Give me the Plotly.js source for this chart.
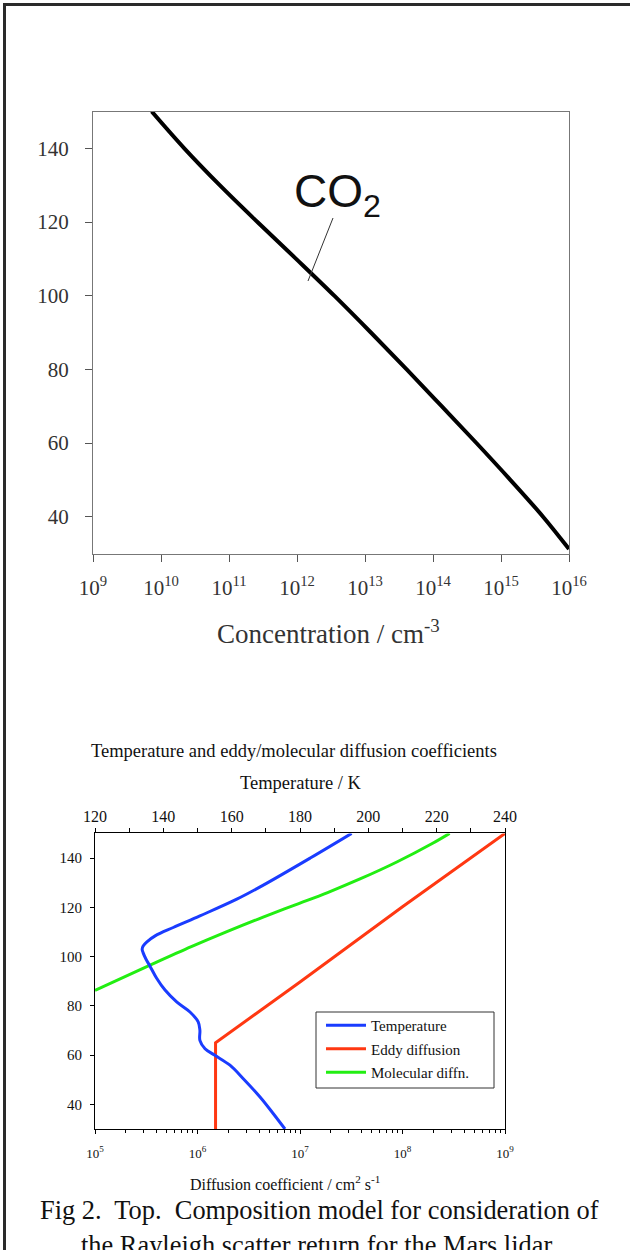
<!DOCTYPE html>
<html>
<head>
<meta charset="utf-8">
<script src="https://cdn.plot.ly/plotly-3.0.1.min.js"></script>
<style>
  html, body { margin: 0; padding: 0; background: #fff; }
  #chart { width: 630px; height: 1250px; }
</style>
</head>
<body>
<div id="chart"></div>
<script>
// ---------- Top panel: CO2 concentration profile ----------
const co2Alt  = [150, 140, 130, 120, 110, 100, 90, 80, 70, 60, 50, 40, 31.2];
const co2Conc = [7.3e9, 2.2e10, 7.3e10, 2.62e11, 9.7e11, 3.53e12, 1.22e13, 4.1e13, 1.34e14, 4.35e14, 1.37e15, 4.15e15, 1.0e16];
const concTickVals = [1e9, 1e10, 1e11, 1e12, 1e13, 1e14, 1e15, 1e16];
const concTickText = ['10<sup>9</sup>', '10<sup>10</sup>', '10<sup>11</sup>', '10<sup>12</sup>', '10<sup>13</sup>', '10<sup>14</sup>', '10<sup>15</sup>', '10<sup>16</sup>'];
const altTickVals = [40, 60, 80, 100, 120, 140];

// ---------- Bottom panel: temperature and diffusion coefficients ----------
const tempAlt = [30, 36.2, 43, 50.4, 55.9, 59.9, 62.6, 66, 70.1, 73.5, 77.5, 81.6, 86.4, 91.3, 96.1, 99, 101.5, 103, 104.3, 106, 108.4, 111.8, 116.5, 123.3, 128.8, 140, 150];
const tempK   = [175.6, 172.2, 168.3, 163.4, 159.5, 155.1, 152.2, 150.7, 150.7, 150.2, 147.8, 143.9, 140.5, 138.0, 136.1, 134.9, 134.1, 133.8, 134.1, 135.2, 137.6, 142.9, 150.7, 161.5, 169.0, 183, 195.1];
const eddyAlt = [30, 65, 89.7, 120.2, 150];
const eddyK   = [1.5e6, 1.5e6, 1.0e7, 1.0e8, 1.0e9];
const molAlt  = [86.3, 96, 104, 110, 116, 121, 126, 131.5, 138.5, 146, 150];
const molK    = [1.0e5, 3.24e5, 8.7e5, 1.91e6, 4.37e6, 9.0e6, 1.86e7, 3.85e7, 8.9e7, 1.97e8, 2.88e8];
const diffTickVals = [1e5, 1e6, 1e7, 1e8, 1e9];
const diffTickText = ['10<sup>5</sup>', '10<sup>6</sup>', '10<sup>7</sup>', '10<sup>8</sup>', '10<sup>9</sup>'];
const seriesNames = ['Temperature', 'Eddy diffusion', 'Molecular diffn.'];

const W = 630, H = 1250;
const px = x => x / W;
const py = y => 1 - y / H;
const SERIF = 'Liberation Serif, Times New Roman, serif';
const SANS = 'Liberation Sans, Arial, sans-serif';

const traces = [
  { x: co2Conc, y: co2Alt, xaxis: 'x', yaxis: 'y', mode: 'lines', showlegend: false,
    line: { color: '#000', width: 4, shape: 'spline', smoothing: 1 }, hoverinfo: 'skip' },
  { x: tempK, y: tempAlt, xaxis: 'x3', yaxis: 'y2', mode: 'lines', name: seriesNames[0], legendgroup: 'g1',
    line: { color: '#1a3cff', width: 3, shape: 'spline', smoothing: 1 } },
  { x: eddyK, y: eddyAlt, xaxis: 'x2', yaxis: 'y2', mode: 'lines', name: seriesNames[1], legendgroup: 'g2',
    line: { color: '#ff3812', width: 3 } },
  { x: molK, y: molAlt, xaxis: 'x2', yaxis: 'y2', mode: 'lines', name: seriesNames[2], legendgroup: 'g3',
    line: { color: '#22ee12', width: 3, shape: 'spline', smoothing: 1 } }
];

const layout = {
  width: W, height: H,
  margin: { l: 0, r: 0, t: 0, b: 0 },
  paper_bgcolor: '#fff', plot_bgcolor: '#fff',
  font: { family: SERIF, color: '#111' },
  xaxis: {
    type: 'log', range: [9, 16], domain: [px(93), px(569)], anchor: 'y',
    tickmode: 'array', tickvals: concTickVals, ticktext: concTickText,
    ticks: 'outside', ticklen: 7, tickcolor: '#555', tickwidth: 1, ticklabelstandoff: 8,
    showline: true, linecolor: '#777', linewidth: 1, mirror: true,
    showgrid: false, zeroline: false,
    tickfont: { family: SERIF, size: 21, color: '#333' }
  },
  yaxis: {
    range: [30, 150], domain: [py(553.5), py(111.5)], anchor: 'x',
    tickmode: 'array', tickvals: altTickVals,
    ticks: 'outside', ticklen: 7, tickcolor: '#555', tickwidth: 1, ticklabelstandoff: 12,
    showline: true, linecolor: '#777', linewidth: 1, mirror: true,
    showgrid: false, zeroline: false,
    tickfont: { family: SERIF, size: 21, color: '#333' }
  },
  xaxis2: {
    type: 'log', range: [5, 9], domain: [px(95), px(505)], anchor: 'y2', side: 'bottom',
    tickmode: 'array', tickvals: diffTickVals, ticktext: diffTickText,
    ticks: 'outside', ticklen: 4, tickcolor: '#000', ticklabelstandoff: 8,
    minor: { ticks: 'outside', ticklen: 3, tickcolor: '#000', dtick: 'D1', showgrid: false },
    showline: true, linecolor: '#000', linewidth: 1, mirror: true,
    showgrid: false, zeroline: false,
    tickfont: { family: SERIF, size: 13, color: '#111' }
  },
  xaxis3: {
    range: [120, 240], overlaying: 'x2', anchor: 'y2', side: 'top',
    tickmode: 'linear', tick0: 120, dtick: 20,
    ticks: 'outside', ticklen: 4, tickcolor: '#000',
    minor: { ticks: 'outside', ticklen: 4, tickcolor: '#000', dtick: 10, showgrid: false },
    showline: true, linecolor: '#000', linewidth: 1,
    showgrid: false, zeroline: false,
    tickfont: { family: SERIF, size: 16, color: '#111' }
  },
  yaxis2: {
    range: [30, 150], domain: [py(1129), py(833.4)], anchor: 'x2',
    tickmode: 'array', tickvals: altTickVals,
    ticks: 'outside', ticklen: 4, tickcolor: '#000', ticklabelstandoff: 5,
    showline: true, linecolor: '#000', linewidth: 1, mirror: true,
    showgrid: false, zeroline: false,
    tickfont: { family: SERIF, size: 15, color: '#111' }
  },
  showlegend: true,
  legend: {
    x: px(321), y: py(1009), xanchor: 'left', yanchor: 'top',
    bgcolor: 'rgba(0,0,0,0)', borderwidth: 0,
    font: { family: SERIF, size: 15, color: '#111' },
    itemwidth: 40,
    tracegroupgap: 1
  },
  shapes: [
    { type: 'rect', xref: 'paper', yref: 'paper', x0: px(4.5), x1: 1.2, y0: py(4.5), y1: -0.2,
      line: { color: '#2a2a2a', width: 3 }, fillcolor: 'rgba(0,0,0,0)' },
    { type: 'line', xref: 'paper', yref: 'paper', x0: px(333), y0: py(218), x1: px(308), y1: py(281),
      line: { color: '#333', width: 1 } },
    { type: 'rect', xref: 'paper', yref: 'paper', x0: px(316), x1: px(494), y0: py(1012), y1: py(1088),
      line: { color: '#333', width: 1 }, fillcolor: 'rgba(0,0,0,0)' }
  ],
  annotations: [
    { xref: 'paper', yref: 'paper', x: px(292), y: py(194), xanchor: 'left', yanchor: 'middle',
      text: 'CO<sub>2</sub>', showarrow: false, font: { family: SANS, size: 46, color: '#111' } },
    { xref: 'paper', yref: 'paper', x: px(328), y: py(632), xanchor: 'center', yanchor: 'middle',
      text: 'Concentration / cm<sup>-3</sup>', showarrow: false, font: { family: SERIF, size: 27, color: '#333' } },
    { xref: 'paper', yref: 'paper', x: px(294), y: py(751), xanchor: 'center', yanchor: 'middle',
      text: 'Temperature and eddy/molecular diffusion coefficients', showarrow: false, font: { family: SERIF, size: 18.5, color: '#111' } },
    { xref: 'paper', yref: 'paper', x: px(301), y: py(783), xanchor: 'center', yanchor: 'middle',
      text: 'Temperature / K', showarrow: false, font: { family: SERIF, size: 18.5, color: '#111' } },
    { xref: 'paper', yref: 'paper', x: px(285), y: py(1183), xanchor: 'center', yanchor: 'middle',
      text: 'Diffusion coefficient / cm<sup>2</sup> s<sup>-1</sup>', showarrow: false, font: { family: SERIF, size: 16, color: '#111' } },
    { xref: 'paper', yref: 'paper', x: px(319), y: py(1210), xanchor: 'center', yanchor: 'middle',
      text: 'Fig 2.\u00a0 Top.\u00a0 Composition model for consideration of', showarrow: false, font: { family: SERIF, size: 26.4, color: '#111' } },
    { xref: 'paper', yref: 'paper', x: px(319), y: py(1245), xanchor: 'center', yanchor: 'middle',
      text: 'the Rayleigh scatter return for the Mars lidar.', showarrow: false, font: { family: SERIF, size: 26.4, color: '#111' } }
  ]
};

Plotly.newPlot('chart', traces, layout, { staticPlot: true, displayModeBar: false });
</script>
</body>
</html>
